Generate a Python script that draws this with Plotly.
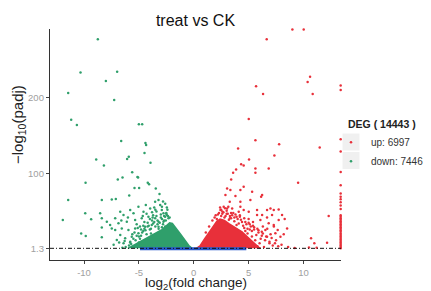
import plotly.graph_objects as go

# ---------------- data ----------------
title_text = "treat vs CK"
deg_total = 14443
up_count = 6997
down_count = 7446
padj_threshold = 1.3  # -log10(0.05)

x_ticks = [-10, -5, 0, 5, 10]
y_ticks = [1.3, 100, 200]
y_tick_labels = ["1.3", "100", "200"]

# up-regulated genes (scattered points)
up_x = [8.99, 10.02, 6.65, 10.6, 10.38, 5.68, 10.84, 6.32, 5.01,
        5.62, 7.78, 11.48, 4.04, 7.35, 5.04, 4.32, 4.55, 3.86, 5.62, 5.62, 6.83, 3.59, 3.41,
        9.51, 4.55, 3.04, 3.34, 4.25, 5.32, 6.23, 2.89, 3.80, 6.14, 5.16, 3.28, 4.25, 2.73,
        2.43, 3.04, 3.50, 4.25, 4.10, 4.55, 5.01, 5.77, 6.23, 6.68, 6.99, 7.29, 7.74, 5.77,
        7.14, 6.68, 6.07, 8.05, 7.74, 7.29, 6.83, 8.51, 7.65, 7.44, 7.90, 6.53, 6.68, 12.3,
        12.15, 10.69, 10.99, 8.29,
        2.0, 2.3, 2.6, 3.0, 3.3, 3.7, 4.0, 4.4, 4.8, 5.2, 5.5, 5.9, 6.2, 6.5, 6.9, 7.2, 5.6,
        6.0, 5.8, 6.4, 4.6, 3.9, 3.2, 2.8, 1.7, 2.1, 4.9, 5.3, 6.7, 7.0, 7.5, 8.0, 8.6, 4.2,
        3.6, 5.0, 5.4, 6.3, 7.3, 8.2, 9.2, 10.5, 11.2, 1.4, 1.1, 2.5, 3.4, 4.7, 5.1,
        1.9, 2.2, 2.5, 2.7, 2.9, 3.1, 3.3, 3.5, 3.7, 3.9, 4.1, 4.3, 4.5, 4.7, 4.9, 5.1, 5.3,
        5.5, 5.7, 5.9, 6.1, 6.3, 6.6, 6.9, 7.1, 7.4, 7.7, 2.4, 2.6, 3.0, 3.4, 3.8, 4.2, 4.6,
        5.0, 5.4, 5.8, 6.2, 3.15, 2.85]
up_y = [290, 290, 277, 227.6, 220.5, 214.9, 204.7, 204.7, 171.8,
        143.8, 138.6, 134.2, 132.9, 123.7, 118.4, 112.2, 110.5, 105.3, 106.6, 100.8, 106.6, 100.8, 92.1,
        87.6, 82.4, 80.3, 78.1, 78.1, 75.9, 71.5, 71.5, 70.2, 69.3, 64.9, 62.6, 62.6, 56.1,
        51.7, 53.9, 53.9, 56.1, 49.5, 51.7, 49.5, 51.7, 45.1, 51.7, 53.9, 51.7, 52.6, 45.1,
        45.1, 42.1, 38.6, 45.1, 38.6, 32.0, 34.2, 27.6, 25.4, 21.1, 16.6, 25.4, 16.6, 43.8,
        8.8, 14.5, 7.9, 40.0,
        45, 48, 50, 47, 44, 42, 40, 36, 33, 30, 26, 22, 18, 12, 8, 5, 12,
        8, 4, 3, 28, 32, 39, 42, 38, 40, 21, 17, 27, 20, 12, 6, 3, 45,
        48, 40, 36, 30, 30, 20, 1.8, 2.5, 2.0, 30, 22, 44, 41, 24, 26,
        42, 46, 52, 49, 44, 47, 41, 45, 37, 43, 34, 39, 31, 36, 27, 33, 24,
        29, 19, 25, 14, 21, 17, 10, 15, 8, 4, 55, 47, 51, 48, 46, 43, 41,
        35, 31, 27, 23, 56, 54]

# up-regulated genes with capped fold change (right edge)
up_edge_lfc = 13.39
up_edge_y = [216, 210, 145, 129, 102, 84.6, 73.7, 69.2, 66, 62, 57.6, 53.2,
             45, 43, 41, 39, 37, 35, 33, 31, 29, 27, 25, 23, 21, 19, 17, 15,
             13, 11, 9, 7, 5, 3, 1.5]

# dense core of up-regulated genes (outline)
up_core_x = [0.25, 0.6, 1.0, 1.4, 1.8, 2.1, 2.4, 2.8, 3.2, 3.8, 4.4, 5.0, 5.5, 5.9, 6.1]
up_core_y = [1.3, 5, 14, 23, 31, 37, 40, 38, 34, 29, 23, 15, 8, 3, 1.3]

# down-regulated genes (scattered points)
down_x = [-8.74, -10.32, -6.98, -8.01, -11.44, -7.25, -11.17, -10.65, -5.0, -4.7,
          -6.61, -4.40, -4.34, -8.89, -8.19, -5.92, -6.07, -4.49, -3.94, -9.86, -6.92, -6.49,
          -5.61, -5.13, -5.07, -4.19, -4.07, -5.40, -4.98, -3.46, -3.12, -5.88, -11.44, -8.38,
          -7.47, -7.10, -9.89, -11.93, -9.35, -8.53, -8.38, -10.26, -9.84, -8.38, -8.38,
          -7.92, -7.62, -7.16, -6.70, -6.40, -5.79, -5.49, -5.04, -4.58, -4.37, -3.97, -3.52,
          -3.21, -3.06, -2.91, -2.76, -4.13, -3.52, -3.21, -2.76, -4.74, -5.34, -6.10, -6.86,
          -7.47, -7.16, -6.56, -5.95, -5.34, -5.04, -5.65, -6.25, -6.70, -7.01, -6.40, -5.79,
          -4.43, -3.83, -3.21, -2.61, -2.46, -2.30,
          -4.9, -4.6, -4.2, -3.7, -3.4, -2.9, -2.6, -2.45, -3.8, -4.0, -4.8, -5.3, -5.9, -6.2,
          -6.5, -5.6, -3.0, -2.5, -6.0, -6.6, -4.3, -3.6, -2.8, -5.2, -4.5, -3.9, -3.3, -2.7,
          -4.1, -5.0, -5.7, -2.35, -2.2,
          -5.8, -5.5, -5.2, -4.9, -4.7, -4.5, -4.3, -4.1, -3.9, -3.7, -3.5, -3.3, -3.1, -2.9,
          -2.7, -2.5, -2.4, -2.6, -2.8, -3.0, -3.2, -3.4, -3.6, -3.8, -4.0, -4.2, -4.4, -4.6,
          -4.8, -5.0, -5.4, -6.3, -6.8, -7.3, -3.5, -2.55, -2.9, -3.75, -4.65, -5.1]
down_y = [277, 233, 234, 222, 206, 197, 171, 164, 165, 165,
          142.9, 140.3, 137.6, 118.4, 110.5, 121.9, 119.2, 127.1, 114, 87.6, 92.1, 94.7,
          101.7, 95.5, 94.7, 87.6, 85.9, 80.7, 80.7, 80.3, 72.8, 71, 64.9, 64.9,
          65.8, 66.2, 47.4, 38.6, 39.5, 47.4, 40.8, 21, 17.5, 28.9, 15.8,
          36.3, 32, 40.8, 49.5, 45.1, 51.7, 47.4, 56.1, 49.5, 58.3, 53.9, 62.6,
          64.9, 58.3, 51.7, 47.4, 42.9, 40.8, 36.3, 36.3, 40.8, 38.6, 36.3, 34.2,
          27.6, 25.4, 27.6, 25.4, 27.6, 21.1, 16.6, 14.5, 18.8, 12.2, 7.9, 10,
          29.7, 32, 29.7, 42.9, 45.1, 40.8,
          30, 24, 35, 45, 50, 56, 60, 55, 38, 26, 18, 12, 5, 3,
          2, 20, 42, 48, 42, 38, 47, 55, 63, 33, 36, 21, 33, 38,
          14, 9, 7, 44, 42,
          9, 14, 18, 14, 22, 27, 20, 31, 27, 34, 30, 38, 35, 40,
          44, 47, 52, 30, 33, 46, 27, 44, 36, 49, 40, 30, 25, 31,
          26, 17, 22, 11, 9, 6, 52, 38, 29, 42, 44, 28]

# dense core of down-regulated genes (outline)
down_core_x = [-6.0, -5.3, -4.6, -4.1, -3.5, -2.9, -2.5, -2.2, -1.95, -1.6, -1.2, -0.8, -0.45, -0.15]
down_core_y = [1.3, 7, 12, 16, 21, 26, 31, 35, 34, 28, 20, 12, 5, 1.3]

# not significant genes (band below threshold)
ns_x = [-4.9, 4.7, 4.7, -4.9]
ns_y = [0.0, 0.0, 1.3, 1.3]

# ---------------- style ----------------
RED = "#E8303A"
GREEN = "#2F9F6B"
BLUE = "#2859CC"
FONT = "Liberation Sans, Arial, Helvetica, sans-serif"
MS = 2.5

# The page body has an 8px default margin, so the figure is made 8px smaller
# and all layout positions below are given in page pixels.
OFF = 8
W, H = 431 - OFF, 291 - OFF
L, T = 50 - OFF, 29 - OFF
R, B = 431 - 341, 291 - 260
PW, PH = W - L - R, H - T - B


def px_x(p):
    return (p - OFF - L) / PW


def px_y(p):
    return (H - B - (p - OFF)) / PH


fig = go.Figure()

fig.add_trace(go.Scatter(x=down_core_x, y=down_core_y, mode="lines", fill="toself",
                         fillcolor=GREEN, line=dict(color=GREEN, width=1.5),
                         showlegend=False, hoverinfo="skip"))
fig.add_trace(go.Scatter(x=up_core_x, y=up_core_y, mode="lines", fill="toself",
                         fillcolor=RED, line=dict(color=RED, width=1.5),
                         showlegend=False, hoverinfo="skip"))

fig.add_trace(go.Scatter(x=up_x, y=up_y, mode="markers", name=f"up: {up_count}",
                         marker=dict(color=RED, size=MS), cliponaxis=False,
                         legendgroup="up"))
fig.add_trace(go.Scatter(x=[up_edge_lfc] * len(up_edge_y), y=up_edge_y, mode="markers",
                         marker=dict(color=RED, size=MS), cliponaxis=False,
                         legendgroup="up", showlegend=False))
fig.add_trace(go.Scatter(x=down_x, y=down_y, mode="markers", name=f"down: {down_count}",
                         marker=dict(color=GREEN, size=MS), cliponaxis=False,
                         legendgroup="down"))
fig.add_trace(go.Scatter(x=ns_x, y=ns_y, mode="lines", fill="toself",
                         fillcolor=BLUE, line=dict(color=BLUE, width=2),
                         showlegend=False, hoverinfo="skip"))

fig.add_hline(y=padj_threshold, line=dict(color="#111111", width=1, dash="4px,2px,1px,2px"),
              layer="above")

# legend placement (page pixels); symbols sit 5px right of the legend edge
LEG_LEFT = 346
KEY_X = LEG_LEFT + 5
for c in (142, 160.5):
    fig.add_shape(type="rect", xref="paper", yref="paper",
                  x0=px_x(KEY_X - 8.5), x1=px_x(KEY_X + 8.5), y0=px_y(c + 8.5), y1=px_y(c - 8.5),
                  fillcolor="#F0F0F0", line=dict(width=0), layer="below")

# axis titles (placed as in the reference)
fig.add_annotation(text="−log<sub>10</sub>(padj)", xref="paper", yref="paper",
                   x=px_x(18), y=px_y(125), xanchor="center", yanchor="middle",
                   textangle=-90, showarrow=False, borderpad=0,
                   font=dict(size=15, color="#222222", family=FONT))
fig.add_annotation(text="log<sub>2</sub>(fold change)", xref="paper", yref="paper",
                   x=px_x(195.5), y=px_y(283.5), xanchor="center", yanchor="middle",
                   showarrow=False, borderpad=0,
                   font=dict(size=13.5, color="#222222", family=FONT))

fig.update_layout(
    template="none",
    width=W, height=H,
    margin=dict(l=L, r=R, t=T, b=B, pad=0, autoexpand=False),
    paper_bgcolor="white", plot_bgcolor="white",
    font=dict(family=FONT, color="#222222"),
    title=dict(text=title_text, x=0.5, xref="paper", xanchor="center",
               y=1 - (20 - OFF) / H, yref="container", yanchor="middle",
               font=dict(size=16, color="#111111", family=FONT)),
    showlegend=True,
    legend=dict(title=dict(text=f"<b>DEG ( {deg_total} )</b>", font=dict(size=10.5, color="#222222")),
                x=px_x(LEG_LEFT), xanchor="left", y=px_y(114), yanchor="top",
                indentation=-15,
                font=dict(size=10, color="#333333"), bgcolor="rgba(0,0,0,0)",
                borderwidth=0, tracegroupgap=0, itemsizing="trace"),
)

fig.update_xaxes(range=[-13.1, 13.42], tickvals=x_ticks, ticktext=[str(v) for v in x_ticks],
                 automargin=False,
                 showgrid=False, zeroline=False, showline=True, linecolor="#333333", linewidth=1.3,
                 ticks="outside", ticklen=3, tickcolor="#444444", tickwidth=1,
                 tickfont=dict(size=9.5, color="#A0A0A0"))
fig.update_yaxes(range=[-14.1, 290.5], tickvals=y_ticks, ticktext=y_tick_labels,
                 automargin=False,
                 showgrid=False, zeroline=False, showline=True, linecolor="#333333", linewidth=1.3,
                 ticks="outside", ticklen=3, tickcolor="#444444", tickwidth=1,
                 tickfont=dict(size=9.5, color="#A0A0A0"))

fig.write_html("out.html")
